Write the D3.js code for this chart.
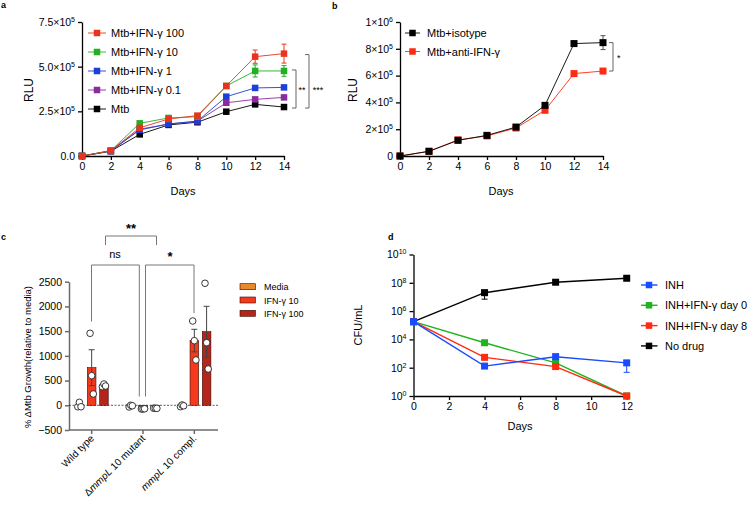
<!DOCTYPE html>
<html><head><meta charset="utf-8">
<script src="https://cdn.jsdelivr.net/npm/d3@7"></script>
<style>
body{margin:0;background:#fff;}
svg{font-family:"Liberation Sans",Arial,Helvetica,sans-serif;}
</style></head>
<body>
<svg id="c" width="750" height="505"></svg>
<script>
// ---------- DATA ----------
const daysA = [0,2,4,6,8,10,12,14];
const seriesA = ["Mtb+IFN-γ 100","Mtb+IFN-γ 10","Mtb+IFN-γ 1","Mtb+IFN-γ 0.1","Mtb"];
const colorsA = ["#e8341f","#21b021","#1c3fd6","#8b2c9e","#000000"];
const a_ifn100 = [0,30000,158000,207000,226000,392000,556000,573000];
const a_ifn100_err = [0,3000,6000,5000,6000,12000,37000,53000];
const a_ifn10 = [0,30000,183000,213000,220000,392000,476000,476000];
const a_ifn10_err = [0,3000,6000,5000,6000,12000,34000,30000];
const a_ifn1 = [0,28000,146000,179000,195000,332000,381000,384000];
const a_ifn01 = [0,28000,150000,179000,195000,298000,317000,328000];
const a_mtb = [0,27000,121000,174000,189000,248000,289000,274000];
const yTicksA = [0,250000,500000,750000];
const yTickLabelsA = [["0.0",""],["2.5×10","5"],["5.0×10","5"],["7.5×10","5"]];

const seriesB = ["Mtb+isotype","Mtb+anti-IFN-γ"];
const colorsB = ["#000000","#ff2a12"];
const b_iso = [0,35000,117000,154000,216000,378000,839000,846000];
const b_iso_err = [0,3000,5000,6000,6000,8000,8000,52000];
const b_anti = [0,35000,120000,150000,209000,341000,615000,634000];
const yTicksB = [0,200000,400000,600000,800000,1000000];
const yTickLabelsB = [["0",""],["2×10","5"],["4×10","5"],["6×10","5"],["8×10","5"],["1×10","6"]];

const catsC = ["Wild type","ΔmmpL 10 mutant","mmpL 10 compl."];
const groupsC = ["Media","IFN-γ 10","IFN-γ 100"];
const colorsC = ["#e8892b","#f5391c","#b3261c"];
const c_mean = [[0,761,400],[-15,-70,-60],[-10,1309,1489]];
const c_sem = [[18,363,18],[10,4,3],[12,228,513]];
const c_points = [
  [[-30,60,-30],[1456,599,229],[376,431,390]],
  [[-34,0,-10],[-75,-75,-70],[-60,-60,-62]],
  [[-28,6,-10],[1705,1307,916],[2468,1266,734]]
];
const yTicksC = [-500,0,500,1000,1500,2000,2500];

const daysD = [0,4,8,12];
const seriesD = ["INH","INH+IFN-γ day 0","INH+IFN-γ day 8","No drug"];
const colorsD = ["#1a4bff","#1fb31f","#ff2a12","#000000"];
const d_inh = [1.8e5,1.3e2,6.0e2,2.2e2];
const d_inh_lo = [1.8e5,0.9e2,4.0e2,4.7e1];
const d_inh_hi = [1.8e5,1.8e2,9.0e2,3.0e2];
const d_ifn0 = [1.8e5,5.8e3,2.2e2,1];
const d_ifn0_lo = [1.8e5,4.0e3,1.5e2,1];
const d_ifn0_hi = [1.8e5,8.0e3,3.0e2,1];
const d_ifn8 = [1.8e5,5.4e2,1.2e2,1];
const d_nodrug = [1.8e5,2.0e7,1.1e8,2.1e8];
const d_nodrug_lo = [1.8e5,7.0e6,8.0e7,2.1e8];
const d_nodrug_hi = [1.8e5,3.0e7,1.5e8,2.1e8];
const yTicksD = [1,1e2,1e4,1e6,1e8,1e10];
const yTickExpD = ["0","2","4","6","8","10"];

// ---------- HELPERS ----------
const svg = d3.select("#c");
const FONT = "\"Liberation Sans\",Arial,Helvetica,sans-serif";

function styleAxis(g, color, width){
  g.select(".domain").attr("stroke",color).attr("stroke-width",width);
  g.selectAll(".tick line").attr("stroke",color).attr("stroke-width",width);
  g.selectAll(".tick text").attr("fill","#000").attr("font-size","10.5px").attr("font-family",FONT);
}
function supLabels(g, labels){
  g.selectAll(".tick text").each(function(d,i){
    const t = d3.select(this); t.text("");
    t.append("tspan").text(labels[i][0]);
    if(labels[i][1]) t.append("tspan").attr("font-size","7px").attr("dy","-4").text(labels[i][1]);
  });
}
function square(g, x, y, color, s){
  g.append("rect").attr("x",x-s/2).attr("y",y-s/2).attr("width",s).attr("height",s).attr("fill",color);
}
function errbar(g, x, y1, y2, color, cap){
  g.append("line").attr("x1",x).attr("x2",x).attr("y1",y1).attr("y2",y2).attr("stroke",color).attr("stroke-width",1);
  [y1,y2].forEach(yy=>g.append("line").attr("x1",x-cap).attr("x2",x+cap).attr("y1",yy).attr("y2",yy).attr("stroke",color).attr("stroke-width",1));
}
function panelLabel(t,x,y){
  svg.append("text").attr("x",x).attr("y",y).attr("font-size","9px").attr("font-weight","bold").text(t);
}
function yLabel(t,x,y,size){
  svg.append("text").attr("transform",`translate(${x},${y}) rotate(-90)`).attr("text-anchor","middle")
    .attr("font-size",size).text(t);
}

// ---------- PANEL A ----------
{
  const x = d3.scaleLinear().domain([0,14]).range([82,284]);
  const y = d3.scaleLinear().domain([0,750000]).range([156,22]);
  const gx = svg.append("g").attr("transform","translate(0,156)")
    .call(d3.axisBottom(x).tickValues(d3.range(0,15,2)).tickSize(4).tickSizeOuter(0));
  styleAxis(gx,"#000",1.3);
  const gy = svg.append("g").attr("transform","translate(82,0)")
    .call(d3.axisLeft(y).tickValues(yTicksA).tickSize(4).tickSizeOuter(0));
  styleAxis(gy,"#000",1.3); supLabels(gy,yTickLabelsA);
  const data = [a_ifn100,a_ifn10,a_ifn1,a_ifn01,a_mtb];
  const errs = [a_ifn100_err,a_ifn10_err,null,null,null];
  const g = svg.append("g");
  const order = [4,3,2,1,0];
  order.forEach(si=>{
    const vals = data[si];
    g.append("path").attr("d",d3.line().x((d,i)=>x(daysA[i])).y(d=>y(d))(vals))
      .attr("fill","none").attr("stroke",colorsA[si]).attr("stroke-width",0.9);
    if(errs[si]) vals.forEach((v,i)=>{ if(errs[si][i]>8000) errbar(g,x(daysA[i]),y(v-errs[si][i]),y(v+errs[si][i]),colorsA[si],2.5); });
    vals.forEach((v,i)=>square(g,x(daysA[i]),y(v),colorsA[si],6.5));
  });
  const br = (xx,y1,y2)=>svg.append("path").attr("d",`M${xx-4},${y1}H${xx}V${y2}H${xx-4}`).attr("fill","none").attr("stroke","#555").attr("stroke-width",0.9);
  br(296,y(a_ifn10[7])-1,y(a_mtb[7])+1);
  br(309,y(a_ifn100[7])+1,y(a_mtb[7])+1);
  svg.append("text").attr("x",302).attr("y",93).attr("text-anchor","middle").attr("font-size","9px").text("**");
  svg.append("text").attr("x",318).attr("y",93).attr("text-anchor","middle").attr("font-size","9px").text("***");
  seriesA.forEach((s,i)=>{
    const yy = 33 + i*19;
    svg.append("line").attr("x1",88).attr("x2",106).attr("y1",yy).attr("y2",yy).attr("stroke",colorsA[i]).attr("stroke-width",0.9);
    square(svg,97,yy,colorsA[i],6.5);
    svg.append("text").attr("x",111).attr("y",yy+4).attr("font-size","11px").text(s);
  });
  yLabel("RLU",33,90,"12px");
  svg.append("text").attr("x",183).attr("y",195).attr("text-anchor","middle").attr("font-size","11px").text("Days");
  panelLabel("a",1,8);
}

// ---------- PANEL B ----------
{
  const x = d3.scaleLinear().domain([0,14]).range([400,603]);
  const y = d3.scaleLinear().domain([0,1000000]).range([156,22]);
  const gx = svg.append("g").attr("transform","translate(0,156)")
    .call(d3.axisBottom(x).tickValues(d3.range(0,15,2)).tickSize(4).tickSizeOuter(0));
  styleAxis(gx,"#000",1.3);
  const gy = svg.append("g").attr("transform","translate(400,0)")
    .call(d3.axisLeft(y).tickValues(yTicksB).tickSize(4).tickSizeOuter(0));
  styleAxis(gy,"#000",1.3); supLabels(gy,yTickLabelsB);
  const g = svg.append("g");
  [[b_anti,1,null],[b_iso,0,b_iso_err]].forEach(([vals,ci,err])=>{
    g.append("path").attr("d",d3.line().x((d,i)=>x(daysA[i])).y(d=>y(d))(vals))
      .attr("fill","none").attr("stroke",colorsB[ci]).attr("stroke-width",0.9);
    if(err) vals.forEach((v,i)=>{ if(err[i]>20000) errbar(g,x(daysA[i]),y(v-err[i]),y(v+err[i]),"#555",2.5); });
    vals.forEach((v,i)=>square(g,x(daysA[i]),y(v),colorsB[ci],7));
  });
  svg.append("path").attr("d",`M${609},${y(b_iso[7])}H613V${y(b_anti[7])}H609`).attr("fill","none").attr("stroke","#555").attr("stroke-width",0.9);
  svg.append("text").attr("x",617).attr("y",61).attr("font-size","9px").text("*");
  seriesB.forEach((s,i)=>{
    const yy = 33 + i*18.5;
    svg.append("line").attr("x1",405).attr("x2",420).attr("y1",yy).attr("y2",yy).attr("stroke",colorsB[i]).attr("stroke-width",0.9);
    square(svg,412.5,yy,colorsB[i],6.5);
    svg.append("text").attr("x",427).attr("y",yy+4).attr("font-size","11px").text(s);
  });
  yLabel("RLU",357,90,"12px");
  svg.append("text").attr("x",501).attr("y",195).attr("text-anchor","middle").attr("font-size","11px").text("Days");
  panelLabel("b",332,9);
}

// ---------- PANEL C ----------
{
  const x0 = d3.scaleBand().domain(catsC).range([66,220]).paddingInner(0).paddingOuter(0);
  const x1 = d3.scaleBand().domain(groupsC).range([0,40.5]).padding(0.3);
  const y = d3.scaleLinear().domain([-500,2500]).range([430,281.7]);
  const AX = "#6a6a6a";
  const gy = svg.append("g").attr("transform","translate(69,0)")
    .call(d3.axisLeft(y).tickValues(yTicksC).tickFormat(d3.format("d")).tickSize(4).tickSizeOuter(0));
  styleAxis(gy,AX,1.5);
  svg.append("line").attr("x1",69).attr("x2",218).attr("y1",430).attr("y2",430).attr("stroke",AX).attr("stroke-width",1.5);
  const catCenter = c => x0(c)+x0.bandwidth()/2;
  catsC.forEach(c=>svg.append("line").attr("x1",catCenter(c)).attr("x2",catCenter(c)).attr("y1",430).attr("y2",434).attr("stroke",AX).attr("stroke-width",1.5));
  svg.append("line").attr("x1",69).attr("x2",218).attr("y1",y(0)).attr("y2",y(0)).attr("stroke","#333").attr("stroke-width",0.8).attr("stroke-dasharray","2,1.5");
  const g = svg.append("g");
  catsC.forEach((c,ci)=>{
    const bx0 = catCenter(c)-20.25;
    groupsC.forEach((gname,gi)=>{
      const bx = bx0 + x1(gname);
      const bw = x1.bandwidth();
      const m = c_mean[ci][gi];
      g.append("rect").attr("x",bx).attr("width",bw).attr("y",Math.min(y(m),y(0))).attr("height",Math.abs(y(m)-y(0)))
        .attr("fill",colorsC[gi]).attr("stroke","#3a0a05").attr("stroke-width",0.6);
      const cx = bx+bw/2;
      if(c_sem[ci][gi]>50) errbar(g,cx,y(m-c_sem[ci][gi]),y(m+c_sem[ci][gi]),"#444",3);
      c_points[ci][gi].forEach((p,pi)=>{
        g.append("circle").attr("cx",cx+(pi-1)*1.6).attr("cy",y(p)).attr("r",3.3).attr("fill","#fff").attr("stroke","#222").attr("stroke-width",0.9);
      });
    });
  });
  catsC.forEach((c,ci)=>{
    const t = svg.append("text").attr("transform",`translate(${catCenter(c)+3},${439}) rotate(-45)`).attr("text-anchor","end").attr("font-size","10px");
    if(ci===0) t.text(c);
    else if(ci===1){ t.append("tspan").text("Δ"); t.append("tspan").attr("font-style","italic").text("mmpL"); t.append("tspan").text(" 10 mutant"); }
    else { t.append("tspan").attr("font-style","italic").text("mmpL"); t.append("tspan").text(" 10 compl."); }
  });
  const BR = "#777";
  svg.append("path").attr("d",`M91.5,321.5V265H139.3V396.5`).attr("fill","none").attr("stroke",BR).attr("stroke-width",1);
  svg.append("path").attr("d",`M145.5,396.5V265H194V313`).attr("fill","none").attr("stroke",BR).attr("stroke-width",1);
  svg.append("path").attr("d",`M105.5,245V236H156.5V245`).attr("fill","none").attr("stroke",BR).attr("stroke-width",1);
  svg.append("text").attr("x",115).attr("y",258).attr("text-anchor","middle").attr("font-size","11px").text("ns");
  svg.append("text").attr("x",170).attr("y",261).attr("text-anchor","middle").attr("font-size","13px").attr("font-weight","bold").text("*");
  svg.append("text").attr("x",131).attr("y",233).attr("text-anchor","middle").attr("font-size","13px").attr("font-weight","bold").text("**");
  groupsC.forEach((gname,gi)=>{
    const yy = 286.7 + gi*13.3;
    svg.append("rect").attr("x",240).attr("y",yy-3).attr("width",15.5).attr("height",6).attr("fill",colorsC[gi]).attr("stroke","#3a0a05").attr("stroke-width",0.6);
    svg.append("text").attr("x",264).attr("y",yy+3.5).attr("font-size","9px").text(gname);
  });
  yLabel("% ΔMtb Growth(relative to media)",31,357,"9.5px");
  panelLabel("c",1,240);
}

// ---------- PANEL D ----------
{
  const x = d3.scaleLinear().domain([0,12]).range([413.5,626.7]);
  const y = d3.scaleLog().domain([1,1e10]).range([396,254.5]);
  const gx = svg.append("g").attr("transform","translate(0,396)")
    .call(d3.axisBottom(x).tickValues(d3.range(0,13,2)).tickSize(4).tickSizeOuter(0));
  styleAxis(gx,"#000",1.3);
  const gy = svg.append("g").attr("transform","translate(413.5,0)")
    .call(d3.axisLeft(y).tickValues(yTicksD).tickSize(4).tickSizeOuter(0));
  styleAxis(gy,"#000",1.3);
  supLabels(gy, yTickExpD.map(e=>["10",e]));
  const g = svg.append("g");
  const data = [d_inh,d_ifn0,d_ifn8,d_nodrug];
  const los = [d_inh_lo,d_ifn0_lo,null,d_nodrug_lo];
  const his = [d_inh_hi,d_ifn0_hi,null,d_nodrug_hi];
  [3,1,2,0].forEach(si=>{
    const vals = data[si];
    g.append("path").attr("d",d3.line().x((d,i)=>x(daysD[i])).y(d=>y(d))(vals))
      .attr("fill","none").attr("stroke",colorsD[si]).attr("stroke-width",1.4);
    if(los[si]) vals.forEach((v,i)=>{ if(his[si][i]/los[si][i]>1.05) errbar(g,x(daysD[i]),y(los[si][i]),y(his[si][i]),colorsD[si],3); });
    vals.forEach((v,i)=>square(g,x(daysD[i]),y(v),colorsD[si],7));
  });
  seriesD.forEach((s,i)=>{
    const yy = 285 + i*20.3;
    svg.append("line").attr("x1",641).attr("x2",657.5).attr("y1",yy).attr("y2",yy).attr("stroke",colorsD[i]).attr("stroke-width",1.4);
    square(svg,649,yy,colorsD[i],6.5);
    svg.append("text").attr("x",665).attr("y",yy+4).attr("font-size","11px").text(s);
  });
  yLabel("CFU/mL",362,325,"11px");
  svg.append("text").attr("x",520).attr("y",430).attr("text-anchor","middle").attr("font-size","11px").text("Days");
  panelLabel("d",388,240);
}
</script>
</body></html>
